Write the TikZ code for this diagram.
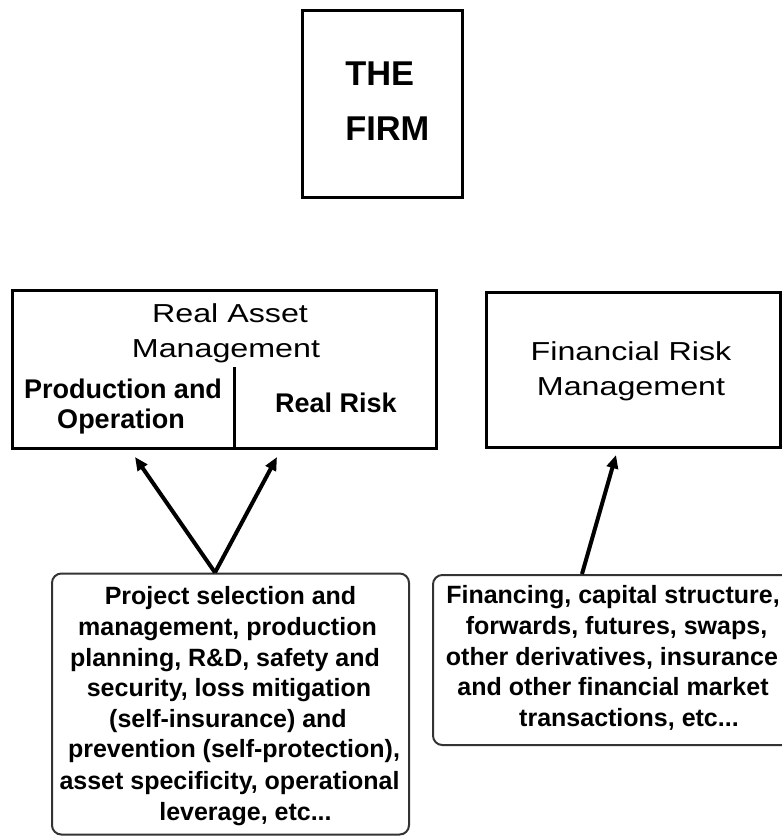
\documentclass[tikz,border=0pt]{standalone}
\usepackage{fontspec}
\setmainfont{Liberation Sans}
\newfontfamily\widesans[FakeStretch=1.24]{Liberation Sans}
\usetikzlibrary{arrows.meta}
\begin{document}
\begin{tikzpicture}[x=0.75pt,y=-0.75pt,
  box/.style={draw, line width=2.25pt, rectangle, inner sep=0pt},
  rbox/.style={draw=black!80, line width=1.5pt, rounded corners=7pt, inner sep=0pt},
  firmtxt/.style={anchor=base west, font=\bfseries\fontsize{25.8pt}{30pt}\selectfont, inner sep=0pt},
  headtxt/.style={anchor=base, font=\widesans\fontsize{19.5pt}{23pt}\selectfont, inner sep=0pt},
  subtxt/.style={anchor=base, font=\bfseries\fontsize{20.25pt}{24pt}\selectfont, inner sep=0pt},
  bodytxt/.style={anchor=base, font=\bfseries\fontsize{18.75pt}{22pt}\selectfont, inner sep=0pt},
  arr/.style={line width=3pt, -{Triangle[length=10pt,width=8.5pt]}}
]
\useasboundingbox (0,0) rectangle (782,836);
\fill[white] (0,0) rectangle (782,836);
\clip (0,0) rectangle (782,836);

% THE FIRM
\node[box, minimum width=120pt, minimum height=140.25pt] (firm) at (382,103.5) {};
\node[firmtxt] (firmA) at (345,85) {THE};
\node[firmtxt] (firmB) at (345,140) {FIRM};

% Real Asset Management
\node[box, minimum width=318pt, minimum height=118.5pt] (ram) at (224,369) {};
\node[headtxt] (ramA) at (230,322) {Real Asset};
\node[headtxt] (ramB) at (226,357) {Management};
\node[subtxt] (prodA) at (123,398) {Production and};
\node[subtxt] (prodB) at (121,428) {Operation};
\node[subtxt] (risk) at (336,412) {Real Risk};
\coordinate (divtop) at (234,367);
\draw[line width=2.25pt] (divtop) -- (divtop |- ram.south);

% Financial Risk Management
\node[box, minimum width=220.5pt, minimum height=116.25pt] (frm) at (633,369.5) {};
\node[headtxt] (frmA) at (631,360) {Financial Risk};
\node[headtxt] (frmB) at (631,395) {Management};

% Real activities box
\node[rbox, minimum width=267.75pt, minimum height=195.75pt] (acts) at (230.5,704) {};
\node[bodytxt] (a1) at (230.5,604) {Project selection and};
\node[bodytxt] (a2) at (227.5,635) {management, production};
\node[bodytxt] (a3) at (225,666) {planning, R\&D, safety and};
\node[bodytxt] (a4) at (229,696) {security, loss mitigation};
\node[bodytxt] (a5) at (228,727) {(self-insurance) and};
\node[bodytxt] (a6) at (234,757) {prevention (self-protection),};
\node[bodytxt] (a7) at (229.5,789) {asset specificity, operational};
\node[bodytxt] (a8) at (245.5,820) {leverage, etc...};

% Financial activities box
\node[rbox, minimum width=275.25pt, minimum height=127.5pt] (facts) at (616.5,660) {};
\node[bodytxt] (f1) at (613,603) {Financing, capital structure,};
\node[bodytxt] (f2) at (616.5,634) {forwards, futures, swaps,};
\node[bodytxt] (f3) at (612,665) {other derivatives, insurance};
\node[bodytxt] (f4) at (613,695) {and other financial market};
\node[bodytxt] (f5) at (629,726) {transactions, etc...};

% Arrows
\coordinate (fork) at (215,0);
\coordinate (tipA) at (135,457);
\coordinate (tipB) at (277,457);
\coordinate (src) at (582,0);
\coordinate (tipC) at (616,455);
\draw[arr] (acts.north -| fork) -- (tipA);
\draw[arr] (acts.north -| fork) -- (tipB);
\draw[arr] (facts.north -| src) -- (tipC);
\end{tikzpicture}
\end{document}
